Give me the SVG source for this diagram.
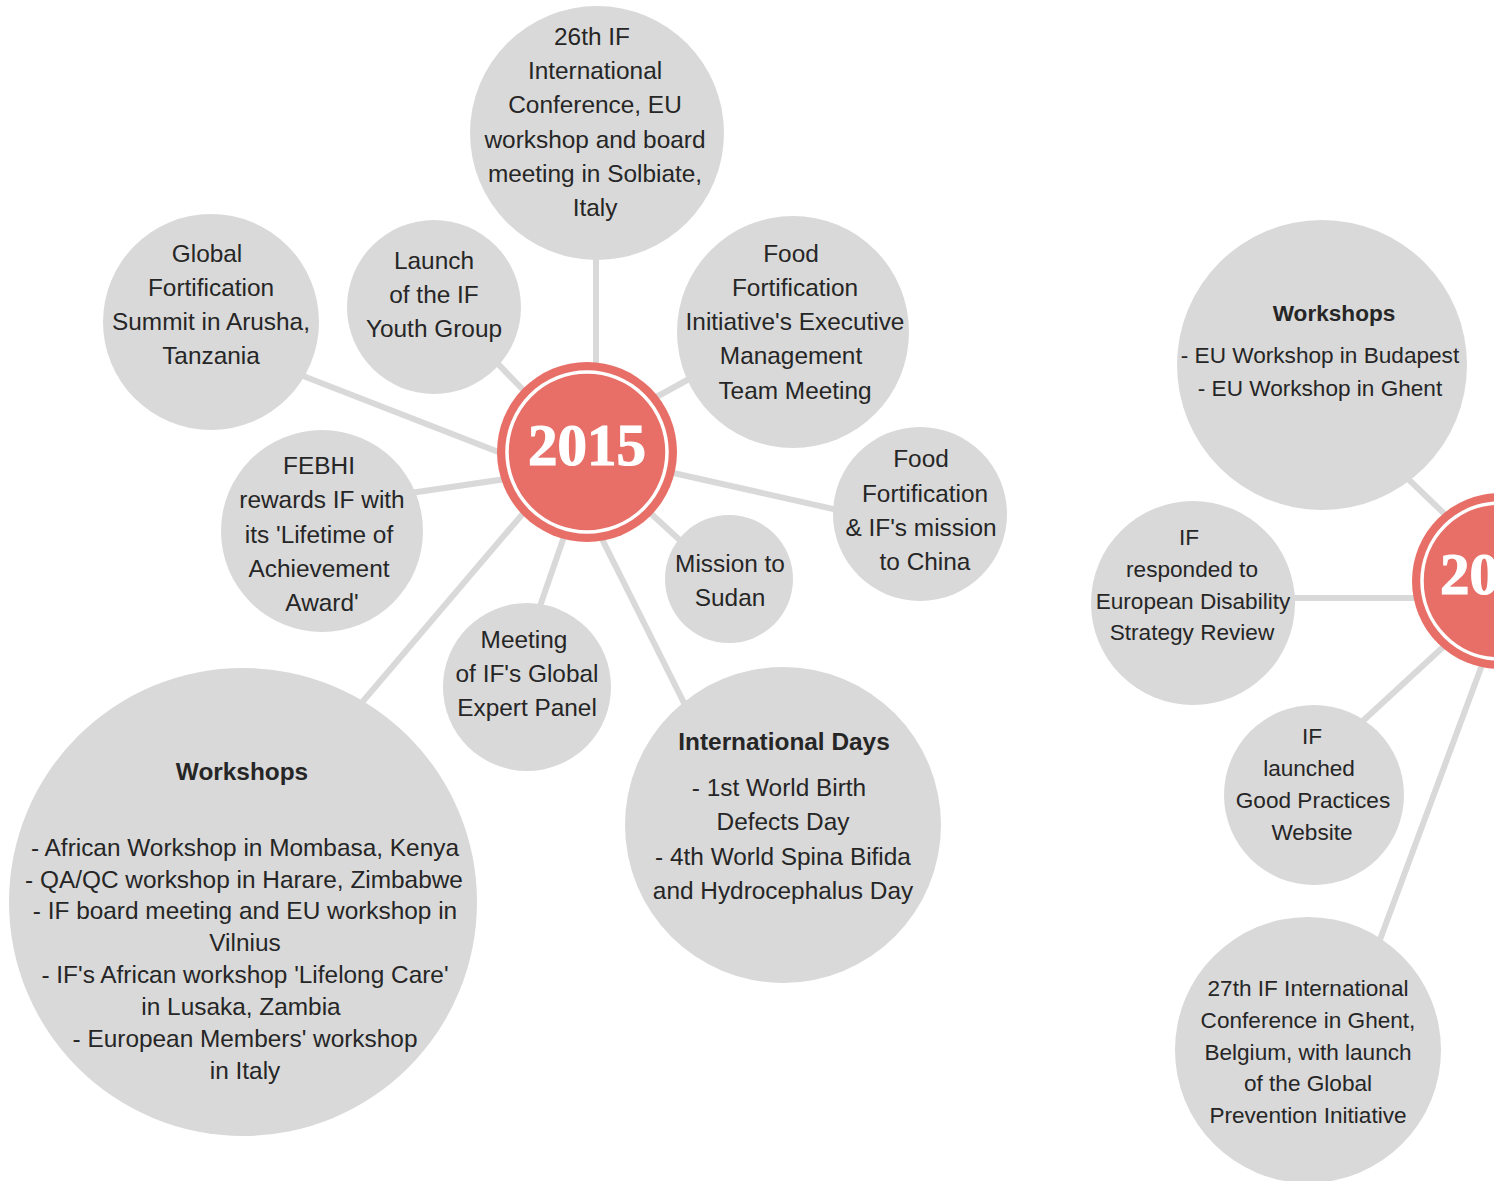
<svg xmlns="http://www.w3.org/2000/svg" width="1494" height="1181" viewBox="0 0 1494 1181">
<style>
.bg{fill:#ffffff}
.c{fill:#d9d9d9}
.ln{stroke:#d9d9d9;stroke-width:6;fill:none}
.yr{fill:#e76f67}
.ring{fill:none;stroke:#ffffff;stroke-width:3.5}
.t{font-family:"Liberation Sans",Arial,sans-serif;font-size:24.4px;fill:#262626;text-anchor:middle}
.s{font-size:22.6px}
.b{font-weight:bold}
.y{font-family:"Liberation Serif","Times New Roman",serif;font-weight:bold;font-size:59px;fill:#ffffff;stroke:#ffffff;stroke-width:1.2}
</style>
<rect class="bg" x="0" y="0" width="1494" height="1181"/>
<g id="connectors">
<line class="ln" x1="596" y1="240" x2="596" y2="420"/>
<line class="ln" x1="280" y1="367" x2="560" y2="476"/>
<line class="ln" x1="470" y1="335" x2="560" y2="428"/>
<line class="ln" x1="720" y1="362" x2="620" y2="417"/>
<line class="ln" x1="620" y1="461" x2="860" y2="515"/>
<line class="ln" x1="390" y1="496" x2="560" y2="471"/>
<line class="ln" x1="620" y1="485" x2="710" y2="568"/>
<line class="ln" x1="530" y1="635" x2="575" y2="505"/>
<line class="ln" x1="585" y1="505" x2="700" y2="735"/>
<line class="ln" x1="330" y1="740" x2="560" y2="470"/>
<line class="ln" x1="1380" y1="452" x2="1480" y2="548"/>
<line class="ln" x1="1260" y1="598" x2="1470" y2="598"/>
<line class="ln" x1="1340" y1="742" x2="1480" y2="613"/>
<line class="ln" x1="1365" y1="980" x2="1495" y2="630"/>
</g>
<g id="n2015">
<circle class="yr" cx="587" cy="452" r="90"/>
<circle class="ring" cx="587" cy="452" r="80"/>
<text class="y" x="587" y="465" text-anchor="middle">2015</text>
</g>
<g id="n2016">
<circle class="yr" cx="1500" cy="581" r="88"/>
<circle class="ring" cx="1500" cy="581" r="78"/>
<text class="y" x="1440" y="594">20</text>
</g>
<g id="n26th">
<circle class="c" cx="597" cy="133" r="127"/>
<text class="t"><tspan x="592" y="45">26th IF</tspan><tspan x="595" y="79">International</tspan><tspan x="595" y="113">Conference, EU</tspan><tspan x="595" y="148">workshop and board</tspan><tspan x="595" y="182">meeting in Solbiate,</tspan><tspan x="595" y="216">Italy</tspan></text>
</g>
<g id="nGlobal">
<circle class="c" cx="211" cy="322" r="108"/>
<text class="t"><tspan x="207" y="262">Global</tspan><tspan x="211" y="296">Fortification</tspan><tspan x="211" y="330">Summit in Arusha,</tspan><tspan x="211" y="364">Tanzania</tspan></text>
</g>
<g id="nYouth">
<circle class="c" cx="434" cy="307" r="87"/>
<text class="t"><tspan x="434" y="269">Launch</tspan><tspan x="434" y="303">of the IF</tspan><tspan x="434" y="337">Youth Group</tspan></text>
</g>
<g id="nFFI">
<circle class="c" cx="793" cy="332" r="116"/>
<text class="t"><tspan x="791" y="262">Food</tspan><tspan x="795" y="296">Fortification</tspan><tspan x="795" y="330">Initiative's Executive</tspan><tspan x="791" y="364">Management</tspan><tspan x="795" y="399">Team Meeting</tspan></text>
</g>
<g id="nChina">
<circle class="c" cx="920" cy="514" r="87"/>
<text class="t"><tspan x="921" y="467">Food</tspan><tspan x="925" y="502">Fortification</tspan><tspan x="921" y="536">&amp; IF's mission</tspan><tspan x="925" y="570">to China</tspan></text>
</g>
<g id="nFEBHI">
<circle class="c" cx="322" cy="531" r="101"/>
<text class="t"><tspan x="319" y="474">FEBHI</tspan><tspan x="322" y="508">rewards IF with</tspan><tspan x="319" y="543">its 'Lifetime of</tspan><tspan x="319" y="577">Achievement</tspan><tspan x="322" y="611">Award'</tspan></text>
</g>
<g id="nSudan">
<circle class="c" cx="729" cy="579" r="64"/>
<text class="t"><tspan x="730" y="572">Mission to</tspan><tspan x="730" y="606">Sudan</tspan></text>
</g>
<g id="nPanel">
<circle class="c" cx="527" cy="687" r="84"/>
<text class="t"><tspan x="524" y="648">Meeting</tspan><tspan x="527" y="682">of IF's Global</tspan><tspan x="527" y="716">Expert Panel</tspan></text>
</g>
<g id="nDays">
<circle class="c" cx="783" cy="825" r="158"/>
<text class="t"><tspan class="b" x="784" y="750">International Days</tspan><tspan x="779" y="796">- 1st World Birth</tspan><tspan x="783" y="830">Defects Day</tspan><tspan x="783" y="865">- 4th World Spina Bifida</tspan><tspan x="783" y="899">and Hydrocephalus Day</tspan></text>
</g>
<g id="nWorkshops2015">
<circle class="c" cx="243" cy="902" r="234"/>
<text class="t"><tspan class="b" x="242" y="780">Workshops</tspan><tspan x="245" y="856">- African Workshop in Mombasa, Kenya</tspan><tspan x="244" y="888">- QA/QC workshop in Harare, Zimbabwe</tspan><tspan x="245" y="919">- IF board meeting and EU workshop in</tspan><tspan x="245" y="951">Vilnius</tspan><tspan x="245" y="983">- IF's African workshop 'Lifelong Care'</tspan><tspan x="241" y="1015">in Lusaka, Zambia</tspan><tspan x="245" y="1047">- European Members' workshop</tspan><tspan x="245" y="1079">in Italy</tspan></text>
</g>
<g id="nWorkshops2016">
<circle class="c" cx="1322" cy="365" r="145"/>
<text class="t s"><tspan class="b" x="1334" y="321">Workshops</tspan><tspan x="1320" y="363">- EU Workshop in Budapest</tspan><tspan x="1320" y="396">- EU Workshop in Ghent</tspan></text>
</g>
<g id="nDisability">
<circle class="c" cx="1193" cy="603" r="102"/>
<text class="t s"><tspan x="1189" y="545">IF</tspan><tspan x="1192" y="577">responded to</tspan><tspan x="1193" y="609">European Disability</tspan><tspan x="1192" y="640">Strategy Review</tspan></text>
</g>
<g id="nWebsite">
<circle class="c" cx="1314" cy="795" r="90"/>
<text class="t s"><tspan x="1312" y="744">IF</tspan><tspan x="1309" y="776">launched</tspan><tspan x="1313" y="808">Good Practices</tspan><tspan x="1312" y="840">Website</tspan></text>
</g>
<g id="n27th">
<circle class="c" cx="1308" cy="1050" r="133"/>
<text class="t s"><tspan x="1308" y="996">27th IF International</tspan><tspan x="1308" y="1028">Conference in Ghent,</tspan><tspan x="1308" y="1060">Belgium, with launch</tspan><tspan x="1308" y="1091">of the Global</tspan><tspan x="1308" y="1123">Prevention Initiative</tspan></text>
</g>
</svg>
